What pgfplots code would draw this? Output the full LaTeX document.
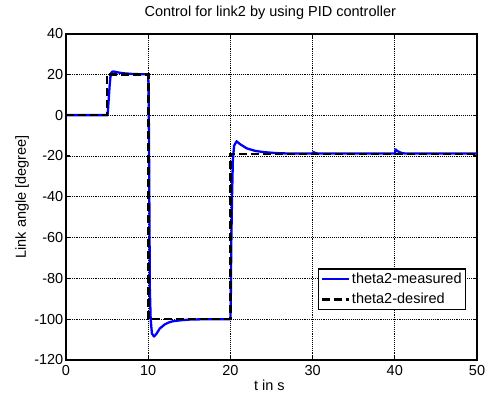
\documentclass[border=0pt]{standalone}
\usepackage{pgfplots}
\pgfplotsset{compat=1.18}
\usepackage{fontspec}
\setmainfont{Liberation Sans}
\definecolor{mblue}{RGB}{0,0,255}
\begin{document}
\begin{tikzpicture}
\begin{axis}[
  at={(0pt,0pt)}, anchor=south west,
  width=411pt, height=326.5pt, scale only axis,
  xmin=0, xmax=50, ymin=-120, ymax=40,
  xtick={0,10,...,50}, ytick={-120,-100,...,40},
  /pgf/number format/assume math mode=true,
  tick align=inside, major tick length=4pt,
  xtick pos=both, ytick pos=both,
  axis line style={line width=2pt},
  tick style={line width=1.2pt, black},
  grid=major,
  major grid style={black, line width=0.7pt, dash pattern=on 0.9pt off 1pt},
  ticklabel style={font=\fontsize{14.5}{16}\selectfont},
  xticklabel style={inner sep=0.5pt, yshift=-4.5pt},
  yticklabel style={inner sep=0.5pt, xshift=-2pt},
  title={Control for link2 by using PID controller},
  title style={at={(axis description cs:0.497,1.044)}, anchor=center, font=\fontsize{14.5}{16}\selectfont},
  xlabel={t in s},
  xlabel style={at={(axis description cs:0.495,-0.077)}, anchor=center, font=\fontsize{14.5}{16}\selectfont},
  ylabel={Link angle [degree]},
  ylabel style={at={(axis description cs:-0.107,0.5)}, anchor=center, font=\fontsize{14.5}{16}\selectfont},
  legend style={at={(axis description cs:0.974,0.153)}, anchor=south east, draw=black, line width=1.4pt,
    font=\fontsize{14.5}{16}\selectfont, inner sep=2pt, row sep=4.5pt, cells={anchor=west, inner ysep=2.5pt, inner xsep=1pt}},
  legend image code/.code={\draw[#1] (0pt,0pt) -- (27pt,0pt);},
]
\addplot[mblue, line width=2.3pt, line join=round] coordinates {
(0,0)(5.05,0)(5.1,2)(5.2,8)(5.3,14)(5.4,18.5)(5.5,20.6)(5.6,21.2)(5.75,21.4)(6,21.2)(6.5,20.8)(7,20.5)(8,20.2)(9,20.05)(10,20)
(10.05,12)(10.1,-15)(10.15,-50)(10.2,-85)(10.3,-100)(10.45,-107)(10.7,-108.5)(11,-107.2)(11.4,-104.6)(12,-102.6)(12.5,-101.6)(13,-101)(14,-100.5)(15,-100.2)(17,-100)(20,-100)
(20.05,-90)(20.1,-65)(20.2,-40)(20.3,-22)(20.45,-15)(20.75,-12.8)(21.2,-14.3)(22,-16.3)(23,-17.5)(24,-18.1)(25.5,-18.6)(27,-18.8)(30,-18.8)(30.1,-18.1)(30.3,-18.5)(30.6,-18.8)
(40,-18.8)(40.1,-16.8)(40.3,-17.6)(40.7,-18.4)(41.2,-18.8)(50,-18.8)
};
\addlegendentry{theta2-measured}
\addplot[black, line width=2.6pt, dash pattern=on 8pt off 4pt] coordinates {
(0,0)(5,0)(5,20)(10,20)(10,-100)(20,-100)(20,-19)(50,-19)
};
\addlegendentry{theta2-desired}
\end{axis}
\pgfresetboundingbox
\path[use as bounding box] (-66pt,-32pt) rectangle (420pt,360pt);
\end{tikzpicture}
\end{document}
